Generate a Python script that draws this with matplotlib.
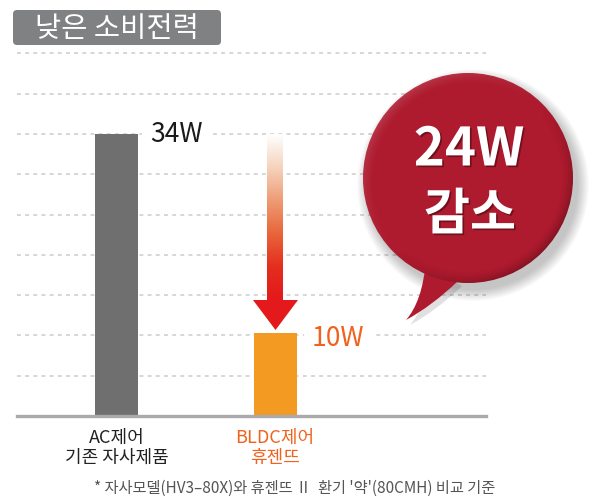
import numpy as np
import matplotlib
matplotlib.use('Agg')
import matplotlib.pyplot as plt
from matplotlib.patches import FancyBboxPatch, Circle, PathPatch, Polygon
from matplotlib.path import Path
from matplotlib.colors import LinearSegmentedColormap
import matplotlib.patheffects as pe

plt.rcParams['font.family'] = ['Noto Sans CJK KR', 'DejaVu Sans']

# ---- data ----
categories = ['AC제어\n기존 자사제품', 'BLDC제어\n휴젠뜨']
power_w = [34, 10]
value_labels = ['34W', '10W']
bar_colors = ['#6f6f6f', '#f29a22']
label_colors = ['#222222', '#f0621e']
value_colors = ['#1a1a1a', '#f0621e']
title = '낮은 소비전력'
badge_lines = [f'{power_w[0] - power_w[1]}W', '감소']
footnote = "* 자사모델(HV3–80X)와 휴젠뜨 Ⅱ  환기 '약'(80CMH) 비교 기준"

# ---- figure ----
W, H = 600, 501
fig = plt.figure(figsize=(W / 100, H / 100), dpi=100)

# main bar axes (pixel layout of the original)
ax = fig.add_axes([17 / W, (H - 416) / H, 469 / W, 366 / H])
x = np.arange(len(categories))
px_per_w = 282 / power_w[0]
bar_w = 43 / 158.5
ax.bar(x, power_w, width=bar_w, color=bar_colors, zorder=2)
ax.set_xlim(-99.5 / 158.5, 1 + 211 / 158.5)
ax.set_ylim(0, 366 / px_per_w)

grid_step = power_w[0] / 7
ax.set_yticks(grid_step * np.arange(1, 10))
ax.yaxis.grid(True, color='#d6d6d6', linestyle=(0, (2, 2.2)), linewidth=1.4)
ax.set_axisbelow(True)
ax.tick_params(axis='y', length=0, labelleft=False)

for s in ['top', 'right', 'left']:
    ax.spines[s].set_visible(False)
ax.spines['bottom'].set_color('#aaaaaa')
ax.spines['bottom'].set_linewidth(2.4)
ax.spines['bottom'].set_zorder(3)

ax.set_xticks(x, categories)
ax.tick_params(axis='x', length=0, pad=9, labelsize=13)
for lab, c in zip(ax.get_xticklabels(), label_colors):
    lab.set_color(c)
    lab.set_linespacing(1.15)
    lab.set_fontweight('light')

# value labels next to bars
offsets = [(8.6, 0), (10.8, -3.6)]
for xi, v, txt, c, off in zip(x, power_w, value_labels, value_colors, offsets):
    ax.annotate(txt, xy=(xi + bar_w / 2, v), xytext=off, textcoords='offset points',
                ha='left', va='center', fontsize=19, color=c, zorder=4, fontweight='light',
                bbox=dict(boxstyle='square,pad=0.3', fc='white', ec='none'))

# ---- overlay in pixel coordinates ----
ov = fig.add_axes([0, 0, 1, 1])
ov.axis('off')

# title box
ov.add_patch(FancyBboxPatch((13, 10), 208, 35, boxstyle='round,pad=0,rounding_size=4',
                            fc='#7f8183', ec='none'))
ov.text(117, 28.5, title, color='white', fontsize=20.5, ha='center', va='center')

# gradient arrow
arrow_cmap = LinearSegmentedColormap.from_list(
    'arr', ['#ffffff', '#f6d3bd', '#ee9c74', '#e9653a', '#e42e1e', '#e3191b'])
grad = np.linspace(0, 1, 256).reshape(-1, 1)
ov.imshow(grad, cmap=arrow_cmap, extent=(267, 283, 300, 134), aspect='auto', zorder=2)
ov.add_patch(Polygon([(253, 300), (298, 300), (275.5, 330)], closed=True,
                     fc='#e3191b', ec='none', zorder=3))

# speech bubble
cx, cy, R = 468, 178, 105
bub_col = '#ae1a2e'
for i in range(10):
    ov.add_patch(Circle((cx + 5, cy + 7), R + i * 1.2, fc='black', ec='none',
                        alpha=0.022, zorder=4))
tail_verts = [(426, 262), (422, 302), (406, 320), (432, 306), (458, 281), (426, 262)]
tail_codes = [Path.MOVETO, Path.CURVE3, Path.CURVE3, Path.CURVE3, Path.CURVE3, Path.CLOSEPOLY]
tail_shadow = PathPatch(Path([(vx + 4, vy + 5) for vx, vy in tail_verts], tail_codes),
                        fc='black', ec='none', alpha=0.12, zorder=4)
ov.add_patch(tail_shadow)
ov.add_patch(PathPatch(Path(tail_verts, tail_codes), fc=bub_col, ec='none', zorder=5))
circ = Circle((cx, cy), R, fc=bub_col, ec='none', zorder=5)
ov.add_patch(circ)

# bevel shading on the bubble rim
yy, xx = np.mgrid[cy - R:cy + R:1.0, cx - R:cx + R:1.0]
dx, dy = (xx - cx) / R, (yy - cy) / R
r = np.sqrt(dx ** 2 + dy ** 2) + 1e-9
rim = np.clip((r - 0.88) / 0.12, 0, 1) ** 1.5
light = (-dx - dy) / (np.sqrt(2) * r)
rgba = np.zeros(xx.shape + (4,))
rgba[..., :3] = np.where(light[..., None] > 0, 1.0, 0.0)
rgba[..., 3] = rim * np.abs(light) * np.where(light > 0, 0.12, 0.28)
im = ov.imshow(rgba, extent=(cx - R, cx + R, cy + R, cy - R), aspect='auto', zorder=6)
im.set_clip_path(circ)

shadow = [pe.withSimplePatchShadow(offset=(1.2, -1.2), shadow_rgbFace='black', alpha=0.35)]
ov.text(cx + 1, 150, badge_lines[0], fontsize=38, weight='bold', color='white',
        ha='center', va='center', zorder=7, path_effects=shadow)
ov.text(cx + 2, 215, badge_lines[1], fontsize=36, weight='bold', color='white',
        ha='center', va='center', zorder=7, path_effects=shadow)

# footnote
ov.text(295, 488, footnote, fontsize=11, color='#555555', ha='center', va='center',
        fontweight='light')

ov.set_xlim(0, W)
ov.set_ylim(H, 0)

fig.savefig('out.png', dpi=100)
